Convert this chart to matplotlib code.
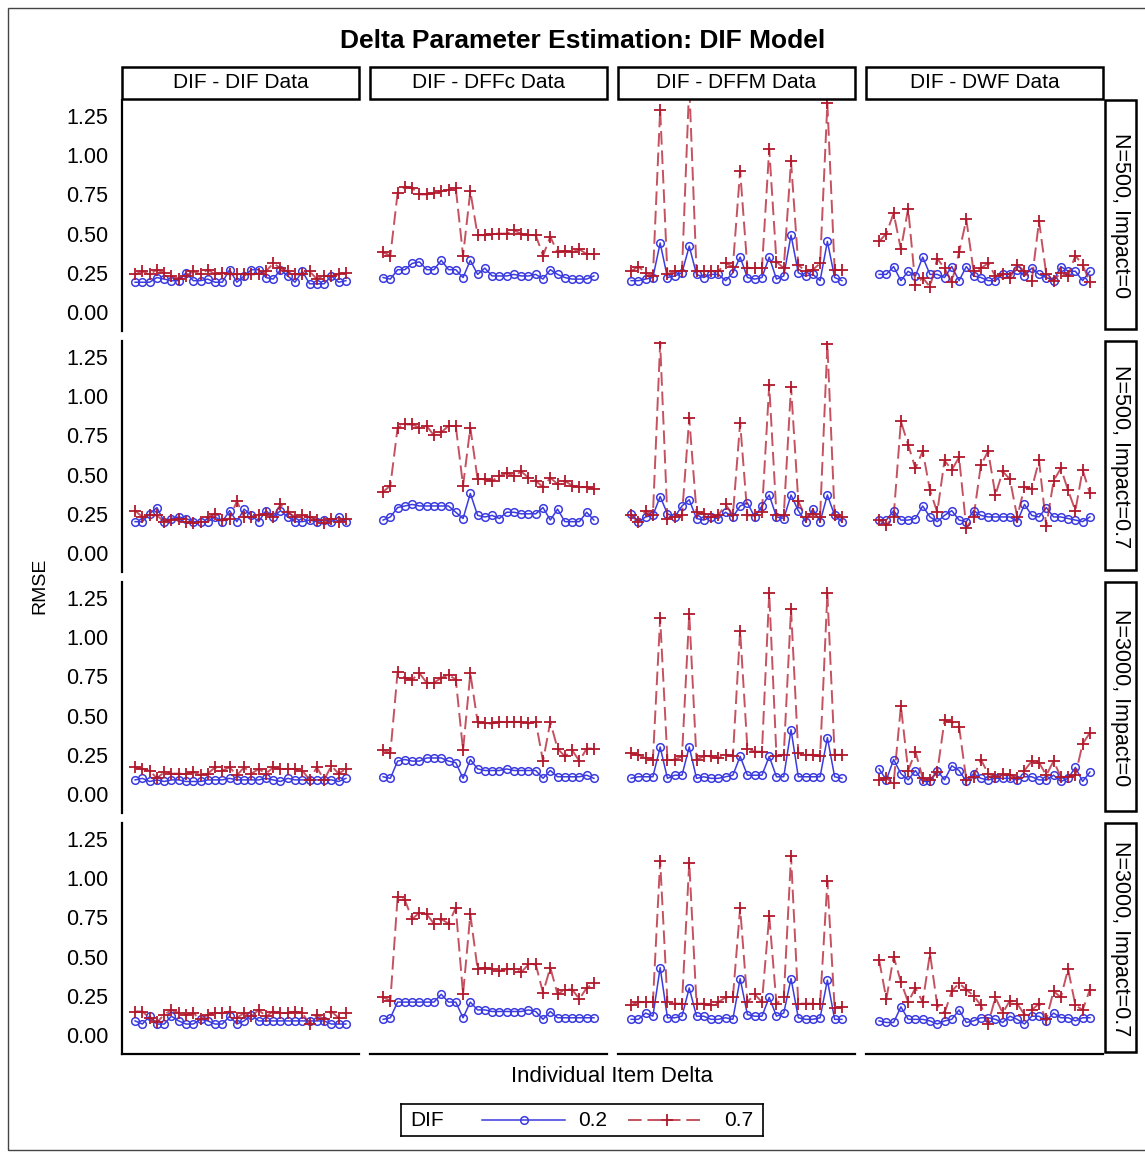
import numpy as np
import matplotlib.pyplot as plt
from matplotlib.patches import Rectangle
from matplotlib.lines import Line2D

plt.rcParams['font.family'] = ['Liberation Sans', 'DejaVu Sans']

# panel labels
data_types = ['DIF - DIF Data', 'DIF - DFFc Data', 'DIF - DFFM Data', 'DIF - DWF Data']
conditions = ['N=500, Impact=0', 'N=500, Impact=0.7', 'N=3000, Impact=0', 'N=3000, Impact=0.7']
items = np.arange(1, 31)
yticks = [0.0, 0.25, 0.5, 0.75, 1.0, 1.25]

# RMSE, DIF = 0.2 / 0.7, one list per data type (DIF, DFFc, DFFM, DWF)
dif02_n500_imp0 = [
    [0.19,0.19,0.19,0.22,0.21,0.20,0.20,0.25,0.20,0.20,0.21,0.19,0.19,0.27,0.19,0.23,0.27,0.27,0.22,0.21,0.27,0.23,0.19,0.26,0.18,0.18,0.18,0.23,0.19,0.20],
    [0.22,0.21,0.27,0.27,0.31,0.32,0.27,0.27,0.33,0.27,0.27,0.22,0.33,0.24,0.28,0.23,0.23,0.23,0.24,0.23,0.23,0.24,0.21,0.27,0.24,0.22,0.21,0.21,0.21,0.23],
    [0.20,0.20,0.21,0.22,0.44,0.22,0.23,0.25,0.42,0.24,0.22,0.24,0.24,0.20,0.25,0.35,0.22,0.21,0.22,0.35,0.21,0.23,0.49,0.25,0.23,0.24,0.20,0.45,0.22,0.20],
    [0.24,0.24,0.29,0.20,0.26,0.23,0.35,0.24,0.24,0.22,0.29,0.20,0.29,0.23,0.22,0.20,0.20,0.24,0.24,0.27,0.23,0.28,0.24,0.22,0.20,0.29,0.26,0.26,0.20,0.26],
]
dif07_n500_imp0 = [
    [0.24,0.26,0.24,0.27,0.25,0.23,0.21,0.23,0.26,0.24,0.27,0.24,0.25,0.24,0.24,0.24,0.24,0.24,0.26,0.31,0.28,0.26,0.24,0.24,0.26,0.21,0.23,0.23,0.24,0.25],
    [0.38,0.36,0.76,0.80,0.79,0.75,0.75,0.76,0.77,0.78,0.79,0.36,0.77,0.49,0.49,0.50,0.50,0.50,0.52,0.50,0.49,0.49,0.36,0.48,0.38,0.39,0.38,0.40,0.37,0.37],
    [0.26,0.29,0.25,0.23,1.29,0.24,0.26,0.26,1.45,0.26,0.26,0.26,0.26,0.31,0.29,0.90,0.28,0.28,0.28,1.04,0.32,0.28,0.96,0.30,0.26,0.27,0.31,1.33,0.27,0.27],
    [0.45,0.50,0.63,0.40,0.66,0.17,0.22,0.16,0.34,0.28,0.19,0.38,0.59,0.26,0.28,0.31,0.23,0.24,0.22,0.30,0.26,0.20,0.58,0.24,0.20,0.25,0.23,0.36,0.30,0.19],
]
dif02_n500_imp07 = [
    [0.20,0.20,0.25,0.29,0.20,0.22,0.23,0.22,0.20,0.20,0.20,0.23,0.20,0.27,0.20,0.28,0.24,0.20,0.27,0.23,0.27,0.23,0.20,0.20,0.21,0.20,0.21,0.20,0.23,0.20],
    [0.21,0.23,0.29,0.30,0.31,0.30,0.30,0.30,0.30,0.30,0.26,0.22,0.38,0.24,0.23,0.24,0.22,0.26,0.26,0.25,0.25,0.25,0.29,0.21,0.28,0.20,0.20,0.20,0.26,0.21],
    [0.25,0.20,0.23,0.24,0.36,0.25,0.23,0.30,0.34,0.22,0.21,0.23,0.22,0.26,0.23,0.30,0.32,0.23,0.30,0.37,0.23,0.22,0.37,0.27,0.20,0.28,0.20,0.37,0.24,0.20],
    [0.21,0.21,0.27,0.21,0.21,0.22,0.30,0.23,0.20,0.24,0.27,0.21,0.20,0.27,0.24,0.23,0.23,0.23,0.23,0.20,0.31,0.24,0.23,0.29,0.23,0.23,0.22,0.21,0.20,0.23],
]
dif07_n500_imp07 = [
    [0.27,0.23,0.24,0.24,0.20,0.21,0.22,0.20,0.19,0.20,0.23,0.25,0.21,0.22,0.33,0.23,0.23,0.24,0.25,0.23,0.31,0.26,0.23,0.24,0.23,0.21,0.19,0.22,0.20,0.22],
    [0.39,0.43,0.80,0.82,0.82,0.80,0.81,0.75,0.77,0.81,0.81,0.43,0.80,0.47,0.47,0.46,0.49,0.51,0.49,0.52,0.48,0.46,0.42,0.48,0.44,0.46,0.43,0.42,0.42,0.41],
    [0.24,0.20,0.27,0.24,1.34,0.22,0.23,0.24,0.86,0.26,0.25,0.23,0.24,0.31,0.24,0.83,0.24,0.24,0.26,1.07,0.24,0.24,1.06,0.33,0.23,0.25,0.23,1.33,0.24,0.23],
    [0.21,0.18,0.23,0.84,0.69,0.54,0.65,0.40,0.26,0.59,0.53,0.61,0.16,0.23,0.56,0.65,0.37,0.52,0.47,0.23,0.42,0.41,0.59,0.17,0.46,0.54,0.40,0.27,0.53,0.38],
]
dif02_n3000_imp0 = [
    [0.09,0.10,0.08,0.09,0.08,0.09,0.09,0.08,0.08,0.08,0.09,0.09,0.09,0.10,0.09,0.09,0.09,0.09,0.10,0.09,0.08,0.10,0.09,0.09,0.09,0.09,0.09,0.09,0.08,0.10],
    [0.11,0.10,0.21,0.22,0.21,0.21,0.23,0.23,0.23,0.21,0.20,0.10,0.22,0.16,0.15,0.15,0.15,0.16,0.15,0.15,0.15,0.15,0.10,0.15,0.11,0.11,0.11,0.11,0.12,0.10],
    [0.10,0.11,0.11,0.11,0.30,0.10,0.12,0.12,0.30,0.10,0.11,0.10,0.10,0.11,0.12,0.24,0.12,0.12,0.12,0.24,0.11,0.11,0.41,0.11,0.11,0.11,0.11,0.36,0.11,0.10],
    [0.16,0.09,0.22,0.13,0.09,0.15,0.08,0.08,0.15,0.09,0.18,0.15,0.08,0.13,0.10,0.09,0.10,0.10,0.10,0.09,0.11,0.11,0.09,0.09,0.12,0.08,0.10,0.17,0.08,0.14],
]
dif07_n3000_imp0 = [
    [0.17,0.16,0.15,0.10,0.14,0.13,0.13,0.13,0.14,0.12,0.13,0.17,0.15,0.17,0.12,0.17,0.13,0.16,0.13,0.17,0.16,0.16,0.16,0.15,0.09,0.17,0.09,0.18,0.13,0.16],
    [0.28,0.26,0.78,0.74,0.73,0.77,0.71,0.71,0.74,0.76,0.73,0.28,0.77,0.46,0.45,0.45,0.46,0.46,0.46,0.46,0.45,0.46,0.21,0.46,0.29,0.24,0.28,0.21,0.29,0.29],
    [0.26,0.25,0.23,0.22,1.12,0.22,0.22,0.24,1.15,0.22,0.24,0.24,0.23,0.25,0.24,1.04,0.29,0.27,0.27,1.28,0.24,0.25,1.18,0.26,0.25,0.25,0.24,1.28,0.25,0.25],
    [0.09,0.10,0.07,0.56,0.15,0.27,0.10,0.09,0.14,0.47,0.46,0.43,0.09,0.11,0.22,0.13,0.11,0.13,0.12,0.10,0.15,0.21,0.20,0.12,0.21,0.11,0.11,0.12,0.32,0.39],
]
dif02_n3000_imp07 = [
    [0.09,0.07,0.12,0.07,0.07,0.12,0.09,0.07,0.07,0.10,0.09,0.07,0.07,0.12,0.07,0.09,0.13,0.09,0.09,0.09,0.09,0.09,0.09,0.09,0.09,0.09,0.09,0.07,0.07,0.07],
    [0.10,0.11,0.21,0.21,0.21,0.21,0.21,0.21,0.26,0.21,0.21,0.11,0.21,0.16,0.16,0.15,0.15,0.15,0.15,0.15,0.16,0.15,0.10,0.15,0.11,0.11,0.11,0.11,0.11,0.11],
    [0.10,0.10,0.14,0.12,0.43,0.11,0.11,0.12,0.30,0.12,0.12,0.10,0.10,0.11,0.10,0.36,0.13,0.12,0.12,0.24,0.12,0.14,0.36,0.11,0.10,0.10,0.11,0.35,0.10,0.10],
    [0.09,0.08,0.08,0.18,0.10,0.10,0.10,0.09,0.07,0.09,0.10,0.16,0.08,0.09,0.11,0.11,0.10,0.08,0.12,0.10,0.07,0.12,0.12,0.09,0.14,0.11,0.11,0.09,0.11,0.11],
]
dif07_n3000_imp07 = [
    [0.15,0.15,0.11,0.08,0.13,0.16,0.14,0.13,0.14,0.10,0.13,0.14,0.14,0.15,0.11,0.14,0.12,0.16,0.12,0.15,0.14,0.14,0.15,0.14,0.07,0.13,0.10,0.15,0.11,0.14],
    [0.24,0.22,0.88,0.86,0.74,0.78,0.77,0.71,0.74,0.71,0.81,0.26,0.77,0.42,0.43,0.42,0.41,0.42,0.42,0.40,0.45,0.45,0.27,0.43,0.26,0.29,0.29,0.23,0.30,0.33],
    [0.19,0.21,0.21,0.21,1.11,0.21,0.20,0.20,1.10,0.20,0.20,0.19,0.21,0.24,0.24,0.81,0.21,0.26,0.21,0.76,0.20,0.24,1.14,0.20,0.20,0.20,0.20,0.98,0.17,0.18],
    [0.48,0.23,0.50,0.34,0.21,0.30,0.21,0.52,0.19,0.14,0.28,0.33,0.29,0.25,0.19,0.07,0.24,0.14,0.22,0.20,0.13,0.16,0.20,0.10,0.28,0.24,0.42,0.19,0.16,0.29],
]

low_dif = [dif02_n500_imp0, dif02_n500_imp07, dif02_n3000_imp0, dif02_n3000_imp07]
high_dif = [dif07_n500_imp0, dif07_n500_imp07, dif07_n3000_imp0, dif07_n3000_imp07]

BLUE = '#3b3be0'
RED = '#b2182b'
W, H = 1145, 1152


def frect(x0, y0, x1, y1):
    # pixel box (top-left origin) -> figure fraction
    return [x0 / W, 1 - y1 / H, (x1 - x0) / W, (y1 - y0) / H]


fig = plt.figure(figsize=(W / 100, H / 100), dpi=100)
fig.patch.set_facecolor('white')

# outer frame
fig.add_artist(Rectangle((8 / W, 2 / H), 1.2, (1150 - 8) / H, transform=fig.transFigure,
                         fill=False, ec='#444444', lw=1.0))

col_x = [122, 370, 618, 866]
row_y = [100, 341, 582, 823]
pw, ph = 237, 231

for r in range(4):
    for c in range(4):
        x0, y0 = col_x[c], row_y[r]
        ax = fig.add_axes(frect(x0, y0, x0 + pw, y0 + ph))
        ax.plot(items, low_dif[r][c], color=BLUE, lw=1.1, marker='o', ms=5.5,
                mfc='none', mec=BLUE, mew=1.1, zorder=3)
        # dashed line a bit lighter than its markers
        ax.plot(items, high_dif[r][c], color=RED, lw=1.4, ls=(0, (7, 3)), alpha=0.75, zorder=4)
        ax.plot(items, high_dif[r][c], ls='none', marker='+', color=RED, ms=8, mew=1.3, zorder=5)
        ax.set_xlim(-0.8, 31.8)
        ax.set_ylim(-0.121, 1.352)
        ax.set_xticks([])
        ax.set_yticks(yticks)
        ax.tick_params(length=0, pad=10, labelsize=15.5)
        if c == 0:
            ax.set_yticklabels([f'{v:.2f}' for v in yticks])
        else:
            ax.set_yticklabels([])
        for s in ax.spines.values():
            s.set_visible(False)
        if c == 0:
            ax.spines['left'].set_visible(True)
            ax.spines['left'].set_linewidth(1.6)
        if r == 3:
            ax.spines['bottom'].set_visible(True)
            ax.spines['bottom'].set_linewidth(1.6)
        ax.patch.set_alpha(0)

# top strips
for c, name in enumerate(data_types):
    x0 = col_x[c]
    fig.add_artist(Rectangle((x0 / W, 1 - 99 / H), pw / W, 32 / H, transform=fig.transFigure,
                             fill=False, ec='black', lw=1.8))
    fig.text((x0 + pw / 2) / W, 1 - 82 / H, name, ha='center', va='center', fontsize=15)

# right strips
for r, name in enumerate(conditions):
    y0 = row_y[r]
    fig.add_artist(Rectangle((1105 / W, 1 - (y0 + ph - 2) / H), 31 / W, (ph - 2) / H,
                             transform=fig.transFigure, fill=False, ec='black', lw=1.8))
    fig.text(1121 / W, 1 - (y0 + ph / 2) / H, name, ha='center', va='center',
             rotation=-90, fontsize=15.5)

fig.text(583 / W, 1 - 41 / H, 'Delta Parameter Estimation: DIF Model', ha='center',
         va='center', fontsize=19, fontweight='bold')
fig.text(40 / W, 1 - 586 / H, 'RMSE', ha='center', va='center', rotation=90, fontsize=14)
fig.text(612 / W, 1 - 1077 / H, 'Individual Item Delta', ha='center', va='center',
         fontsize=16)

# legend box
lax = fig.add_axes(frect(401, 1104, 763, 1136))
lax.set_xlim(401, 763)
lax.set_ylim(0, 1)
lax.set_xticks([])
lax.set_yticks([])
for s in lax.spines.values():
    s.set_linewidth(1.2)
lax.text(410, 0.5, 'DIF', ha='left', va='center', fontsize=15)
lax.add_line(Line2D([482, 565], [0.5, 0.5], color=BLUE, lw=1.1))
lax.add_line(Line2D([524], [0.5], color=BLUE, marker='o', ms=5.5, mfc='none', mew=1.1))
lax.text(578, 0.5, '0.2', ha='left', va='center', fontsize=15)
lax.add_line(Line2D([628, 705], [0.5, 0.5], color=RED, lw=1.4, ls=(0, (7, 3)), alpha=0.75))
lax.add_line(Line2D([667], [0.5], color=RED, marker='+', ms=8, mew=1.3))
lax.text(724, 0.5, '0.7', ha='left', va='center', fontsize=15)

fig.savefig('out.png', dpi=100)
